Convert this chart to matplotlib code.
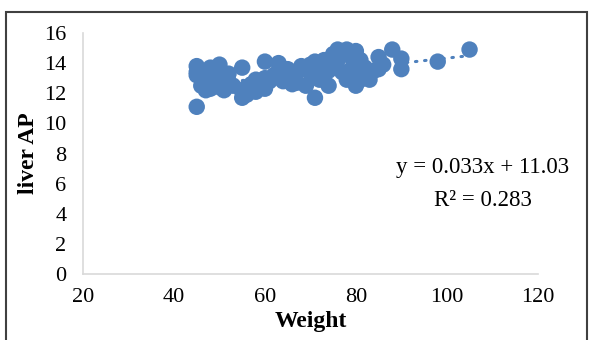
import numpy as np
import matplotlib.pyplot as plt
from matplotlib.patches import Rectangle

weight = [45, 45, 45, 45, 46, 47, 47, 48, 48, 49, 49, 50, 50, 50, 51, 51, 52, 52, 53,
          55, 55, 55, 56, 56, 57, 57, 58, 58, 59, 60, 60, 60, 61, 62, 63, 63, 64, 64,
          65, 65, 66, 67, 67, 68, 69, 70, 70, 71, 71, 72, 72, 73, 73, 74, 74, 75, 75,
          76, 76, 77, 77, 78, 78, 79, 79, 80, 80, 80, 81, 81, 82, 82, 83, 84, 85, 85,
          86, 88, 90, 90, 98, 105]
liver_ap = [11.1, 13.8, 13.4, 13.2, 12.5, 12.2, 13.0, 13.7, 12.3, 13.2, 12.6, 13.9, 12.4,
            13.4, 13.0, 12.2, 12.8, 13.3, 12.5, 13.7, 11.7, 12.1, 12.4, 11.9, 12.6, 12.2,
            12.9, 12.1, 12.5, 14.1, 12.3, 13.0, 12.8, 13.2, 14.0, 13.5, 13.2, 12.8, 13.6,
            13.0, 12.6, 13.4, 12.7, 13.8, 12.5, 13.9, 13.3, 11.7, 14.1, 13.6, 12.9, 14.2,
            13.0, 13.5, 12.5, 14.6, 13.9, 14.9, 14.2, 14.6, 13.4, 14.9, 12.9, 14.4, 13.6,
            14.8, 13.2, 12.5, 14.2, 12.9, 13.7, 13.1, 12.9, 13.5, 14.4, 13.6, 13.9, 14.9,
            14.3, 13.6, 14.1, 14.9]
slope = 0.033
intercept = 11.03
r2 = 0.283

plt.rcParams['font.family'] = ['Liberation Serif', 'DejaVu Serif']
blue = '#4f81bd'

fig = plt.figure(figsize=(5.89, 3.40), dpi=100)
ax = fig.add_axes([0.141, 0.194, 0.772, 0.709])

ax.scatter(weight, liver_ap, s=140, color=blue, edgecolors='none', zorder=3)

# linear trendline (dotted)
xs = np.array([min(weight), max(weight)])
ax.plot(xs, slope * xs + intercept, linestyle=(0, (0.5, 2.5)), color=blue,
        linewidth=2.2, dash_capstyle='round', zorder=2)

ax.set_xlim(20, 120)
ax.set_ylim(0, 16)
ax.set_xticks(range(20, 121, 20))
ax.set_yticks(range(0, 17, 2))
ax.tick_params(length=0, labelsize=16)
ax.tick_params(axis='x', pad=10)
ax.tick_params(axis='y', pad=12)

for s in ['top', 'right']:
    ax.spines[s].set_visible(False)
for s in ['left', 'bottom']:
    ax.spines[s].set_color('#d9d9d9')
    ax.spines[s].set_linewidth(1.2)

ax.set_xlabel('Weight', fontsize=17, fontweight='bold', labelpad=3)
ax.set_ylabel('liver AP', fontsize=17, fontweight='bold', labelpad=4)

ax.text(0.879, 0.44, f'y = {slope}x + {intercept}', transform=ax.transAxes,
        ha='center', va='center', fontsize=16.5)
ax.text(0.879, 0.307, f'R² = {r2}', transform=ax.transAxes,
        ha='center', va='center', fontsize=16.5)

fig.patches.append(Rectangle((6 / 589, -0.1), 581 / 589, 1.1 - 12 / 340,
                             transform=fig.transFigure, fill=False,
                             edgecolor='#404040', linewidth=1.5))

fig.savefig('out.png', dpi=100)
